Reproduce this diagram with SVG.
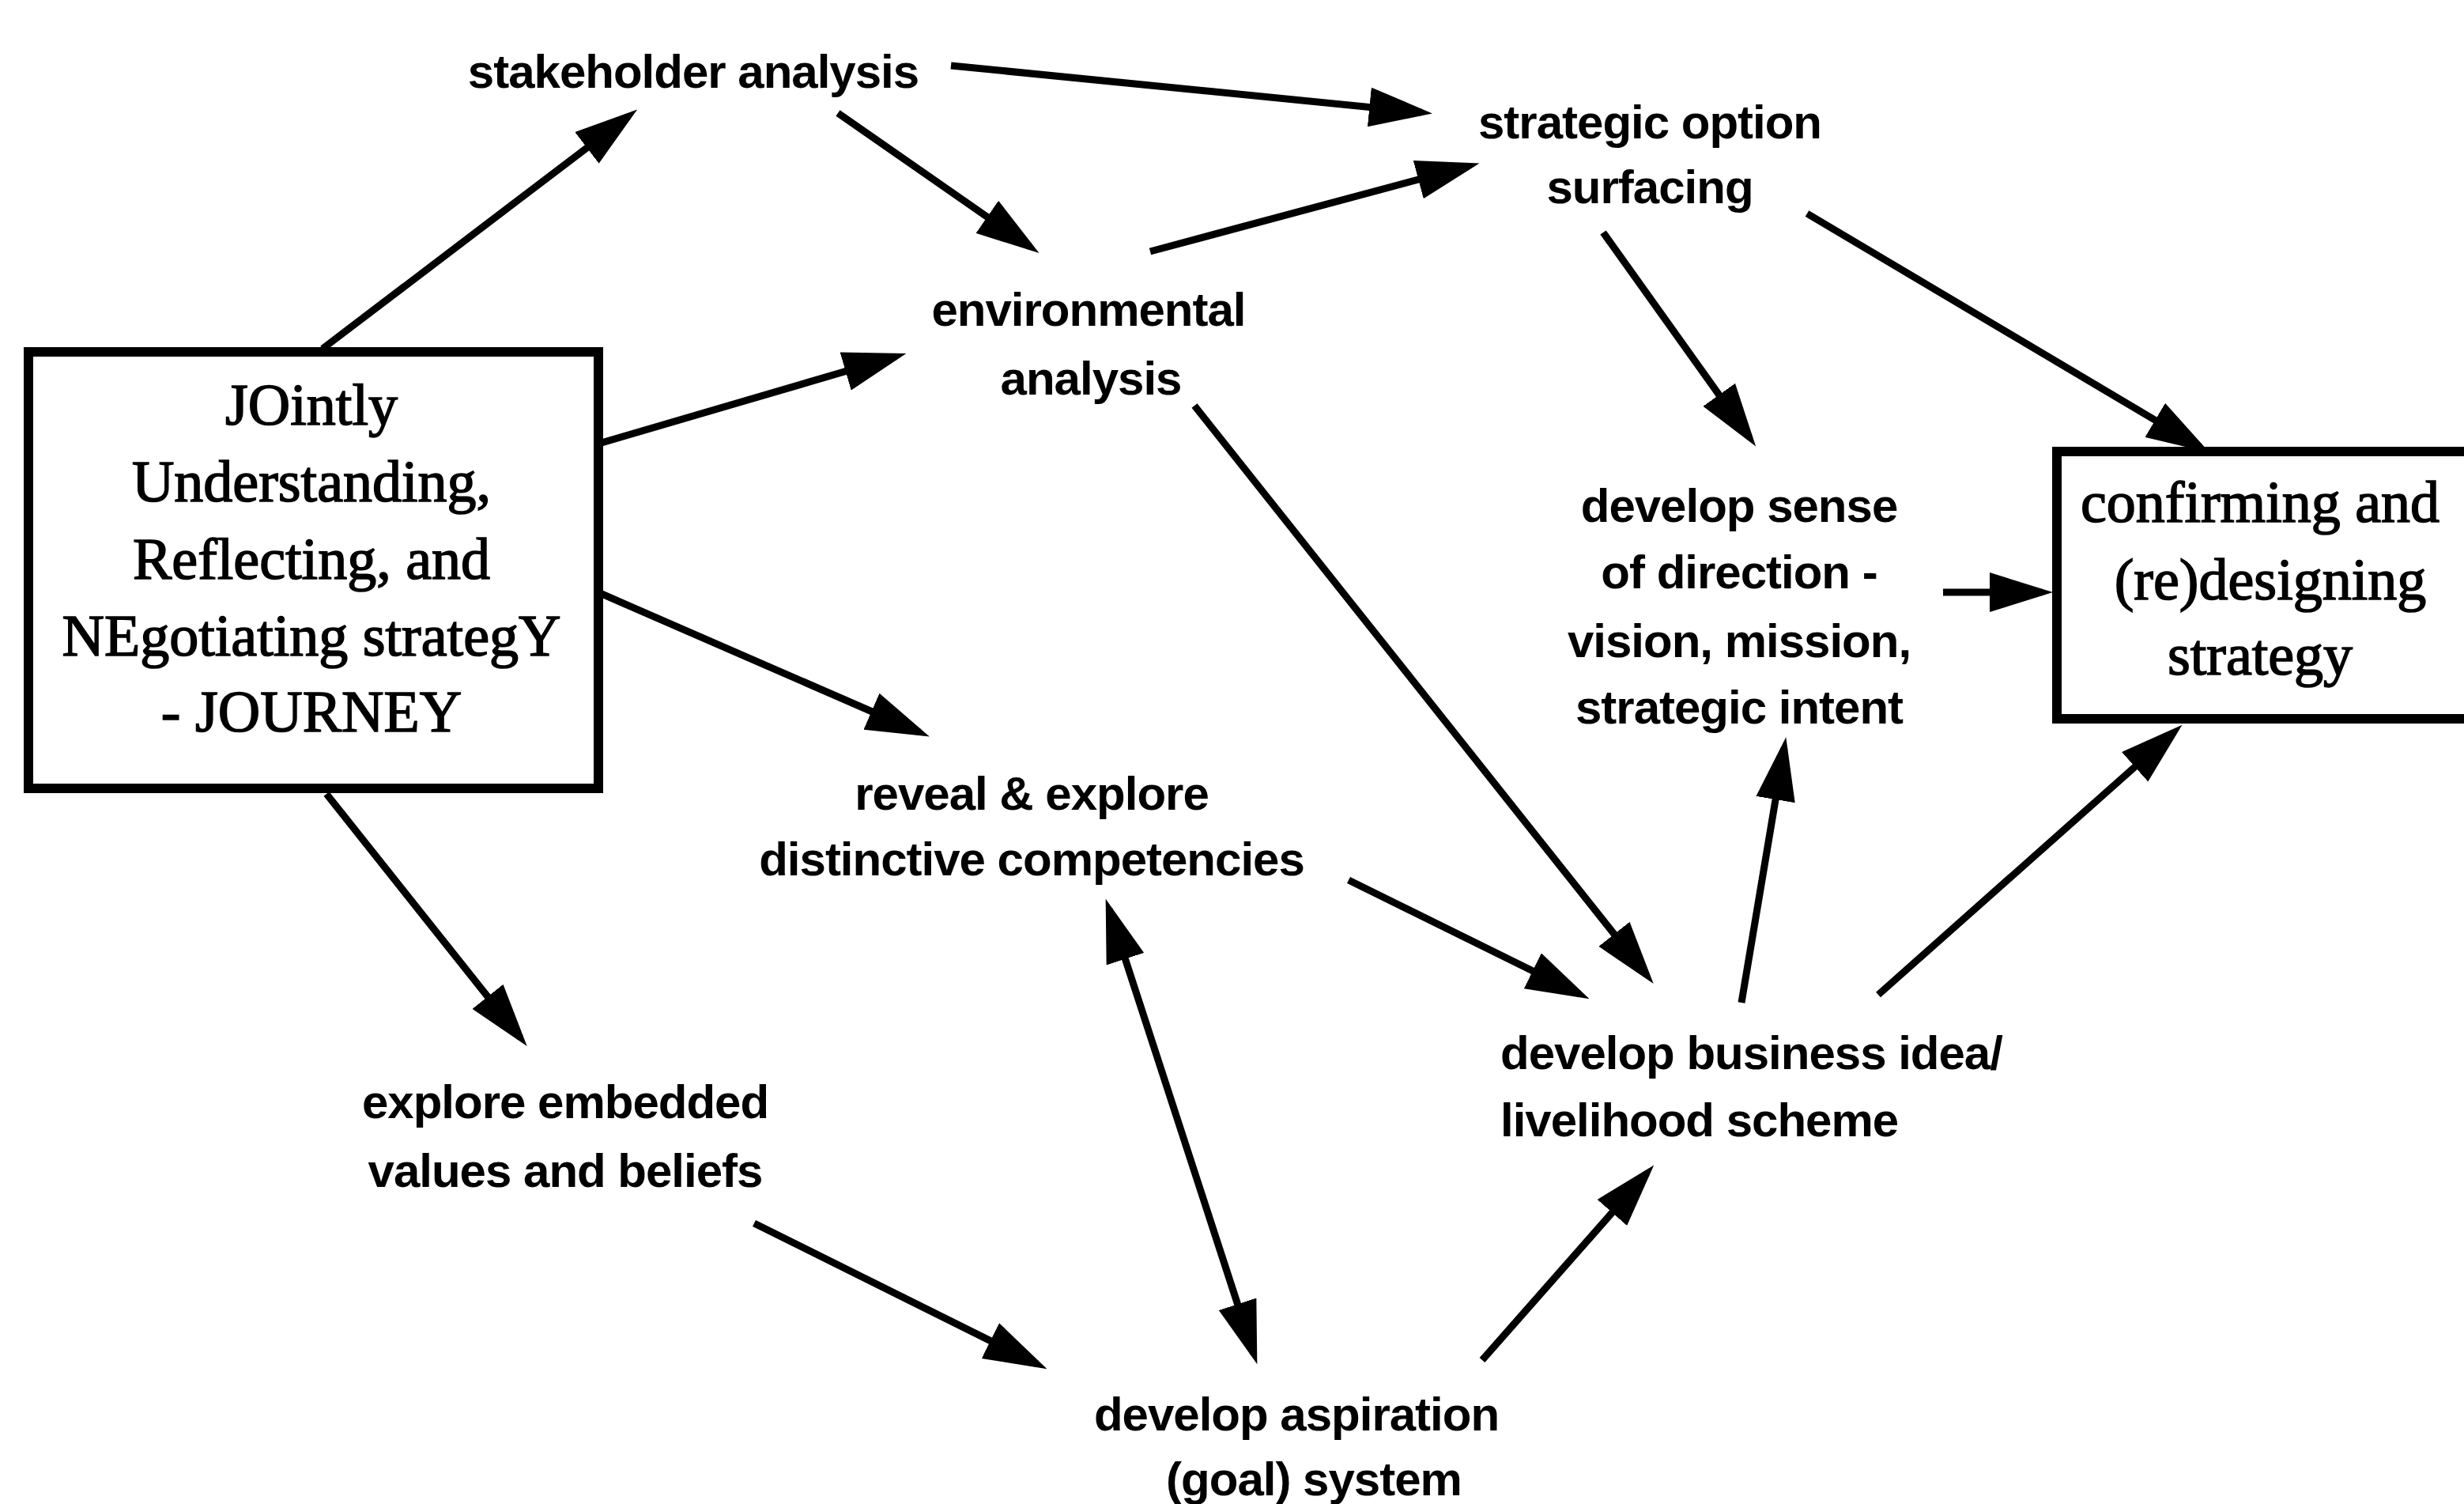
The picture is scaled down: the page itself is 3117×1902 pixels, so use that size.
<svg xmlns="http://www.w3.org/2000/svg" width="3117" height="1902" viewBox="0 0 3117 1902">
<style>
.lbl{font-family:"Liberation Sans",Arial,sans-serif;font-weight:bold;font-size:60px;fill:#000;text-anchor:middle;letter-spacing:-1px}
.lbll{font-family:"Liberation Sans",Arial,sans-serif;font-weight:bold;font-size:60px;fill:#000;letter-spacing:-1px}
.ser{font-family:"Liberation Serif","Times New Roman",serif;font-size:74px;fill:#000;stroke:#000;stroke-width:1.6px;text-anchor:middle}
.box{fill:#fff;stroke:#000;stroke-width:12}
.arr{stroke:#000;stroke-width:9;fill:none;marker-end:url(#ah)}
.dbl{stroke:#000;stroke-width:9;fill:none;marker-end:url(#ah);marker-start:url(#ah)}
</style>
<defs>
<marker id="ah" markerUnits="userSpaceOnUse" markerWidth="80" markerHeight="50" refX="66" refY="25" orient="auto-start-reverse" viewBox="0 0 80 50">
<path d="M0,0 L80,25 L0,50 z" fill="#000"/>
</marker>
</defs>
<rect width="3117" height="1902" fill="#fff"/>
<g id="connectors">
<line class="arr" x1="408" y1="441" x2="795" y2="147"/>
<line class="arr" x1="1203" y1="83" x2="1798" y2="142"/>
<line class="arr" x1="1060" y1="143" x2="1303" y2="312"/>
<line class="arr" x1="761" y1="560" x2="1133" y2="451"/>
<line class="arr" x1="1455" y1="318" x2="1858" y2="210"/>
<line class="arr" x1="2028" y1="294" x2="2213" y2="553"/>
<line class="arr" x1="2286" y1="270" x2="2783" y2="565"/>
<line class="arr" x1="761" y1="751" x2="1163" y2="926"/>
<line class="arr" x1="413" y1="1004" x2="658" y2="1312"/>
<line class="arr" x1="1511" y1="513" x2="2083" y2="1233"/>
<line class="arr" x1="2458" y1="749" x2="2583" y2="749"/>
<line class="arr" x1="1706" y1="1113" x2="1998" y2="1257"/>
<line class="arr" x1="2203" y1="1268" x2="2257" y2="946"/>
<line class="arr" x1="2376" y1="1258" x2="2750" y2="926"/>
<line class="arr" x1="954" y1="1547" x2="1312" y2="1725"/>
<line class="dbl" x1="1403" y1="1150" x2="1586" y2="1712"/>
<line class="arr" x1="1875" y1="1720" x2="2083" y2="1484"/>
</g>
<g id="n-journey">
<rect class="box" x="36" y="445" width="721" height="552"/>
<text class="ser" x="394" y="537">JOintly</text>
<text class="ser" x="394" y="634">Understanding,</text>
<text class="ser" x="394" y="732">Reflecting, and</text>
<text class="ser" x="394" y="829">NEgotiating strategY</text>
<text class="ser" x="394" y="925">- JOURNEY</text>
</g>
<g id="n-confirm">
<rect class="box" x="2602" y="571" width="540" height="338"/>
<text class="ser" x="2859" y="660">confirming and</text>
<text class="ser" x="2872" y="758">(re)designing</text>
<text class="ser" x="2859" y="853">strategy</text>
</g>
<g id="n-stakeholder">
<text class="lbl" x="877" y="111">stakeholder analysis</text>
</g>
<g id="n-option">
<text class="lbl" x="2087" y="175">strategic option</text>
<text class="lbl" x="2087" y="257">surfacing</text>
</g>
<g id="n-environment">
<text class="lbl" x="1377" y="412">environmental</text>
<text class="lbl" x="1380" y="499">analysis</text>
</g>
<g id="n-direction">
<text class="lbl" x="2200" y="660">develop sense</text>
<text class="lbl" x="2200" y="744">of direction -</text>
<text class="lbl" x="2200" y="831">vision, mission,</text>
<text class="lbl" x="2200" y="915">strategic intent</text>
</g>
<g id="n-competencies">
<text class="lbl" x="1305" y="1024">reveal &amp; explore</text>
<text class="lbl" x="1305" y="1107">distinctive competencies</text>
</g>
<g id="n-values">
<text class="lbl" x="715" y="1414">explore embedded</text>
<text class="lbl" x="715" y="1501">values and beliefs</text>
</g>
<g id="n-business">
<text class="lbll" x="1898" y="1352">develop business idea/</text>
<text class="lbll" x="1898" y="1437">livelihood scheme</text>
</g>
<g id="n-aspiration">
<text class="lbl" x="1640" y="1809">develop aspiration</text>
<text class="lbl" x="1662" y="1891">(goal) system</text>
</g>
</svg>
